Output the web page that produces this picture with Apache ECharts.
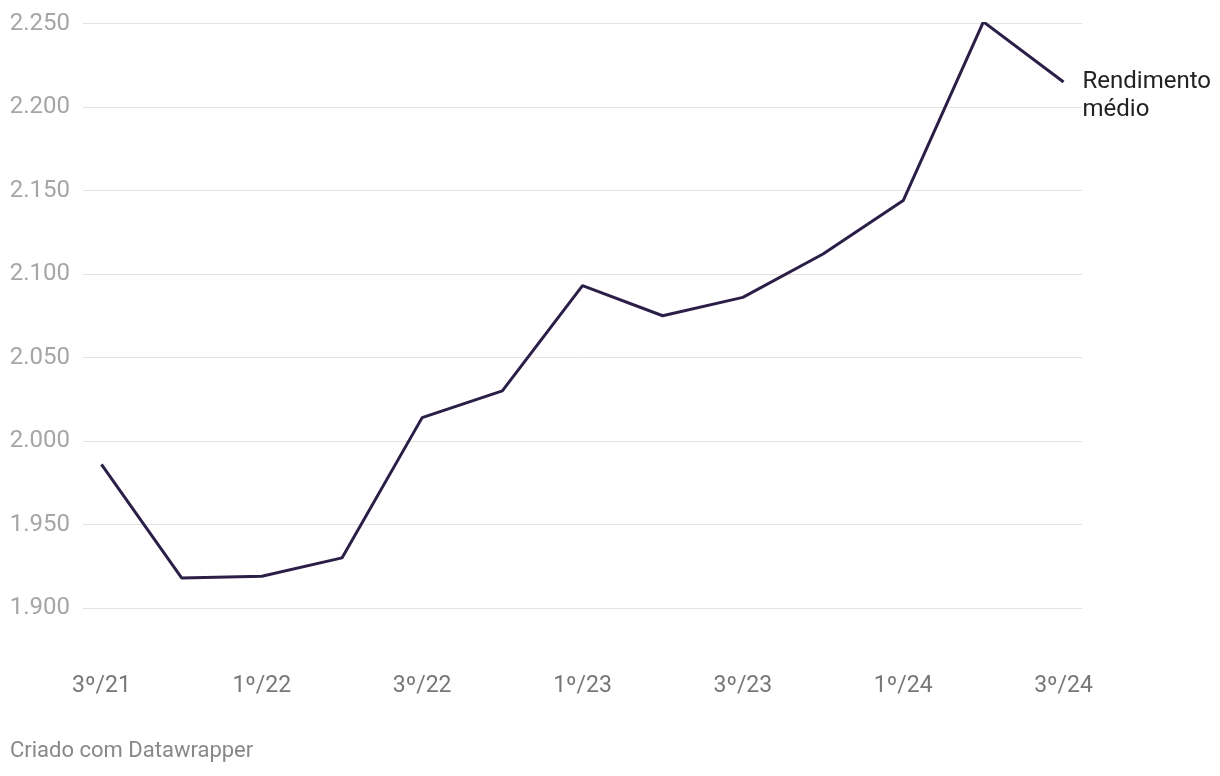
<!DOCTYPE html>
<html>
<head>
<meta charset="utf-8">
<script src="https://cdn.jsdelivr.net/npm/echarts@6/dist/echarts.min.js"></script>
<style>
html,body{margin:0;padding:0;background:#fff;}
#chart{width:1220px;height:776px;}
</style>
</head>
<body>
<div id="chart"></div>
<script>
const categories = ['3º/21','4º/21','1º/22','2º/22','3º/22','4º/22','1º/23','2º/23','3º/23','4º/23','1º/24','2º/24','3º/24'];
const rendimento = [1986, 1918, 1919, 1930, 2014, 2030, 2093, 2075, 2086, 2112, 2144, 2251, 2215];
const xTickIndices = [0, 2, 4, 6, 8, 10, 12];
const seriesName = 'Rendimento\nmédio';
const footer = 'Criado com Datawrapper';

const chart = echarts.init(document.getElementById('chart'), null, {renderer: 'canvas'});
const fmt = v => Math.round(v).toString().replace(/\B(?=(\d{3})+(?!\d))/g, '.');

chart.setOption({
  animation: false,
  textStyle: {fontFamily: 'Roboto'},
  grid: {left: 83, right: 138, top: 23.5, bottom: 168, containLabel: false},
  xAxis: {
    type: 'value',
    min: -0.23,
    max: 12.23,
    axisLine: {show: false},
    axisTick: {show: false},
    splitLine: {show: false},
    axisLabel: {
      customValues: xTickIndices,
      formatter: v => categories[Math.round(v)] || '',
      color: '#777777',
      fontSize: 23,
      fontFamily: 'Roboto',
      margin: 67
    }
  },
  yAxis: {
    type: 'value',
    min: 1900,
    max: 2250,
    interval: 50,
    axisLine: {show: false},
    axisTick: {show: false},
    splitLine: {lineStyle: {color: '#e3e3e3', width: 1}},
    axisLabel: {
      formatter: fmt,
      color: '#a6a6a6',
      fontSize: 24,
      fontFamily: 'Roboto',
      margin: 13
    }
  },
  series: [{
    type: 'line',
    name: seriesName,
    data: rendimento.map((v, i) => [i, v]),
    showSymbol: false,
    lineStyle: {color: '#2b1f47', width: 3},
    itemStyle: {color: '#2b1f47'},
    endLabel: {
      show: true,
      formatter: () => seriesName,
      color: '#222222',
      fontSize: 24,
      fontFamily: 'Roboto',
      lineHeight: 28,
      distance: 19,
      offset: [0, 14],
      align: 'left'
    }
  }],
  graphic: [{
    type: 'text',
    left: 10,
    top: 740,
    style: {text: footer, fill: '#888888', fontSize: 22, fontFamily: 'Roboto'}
  }]
});
</script>
</body>
</html>
